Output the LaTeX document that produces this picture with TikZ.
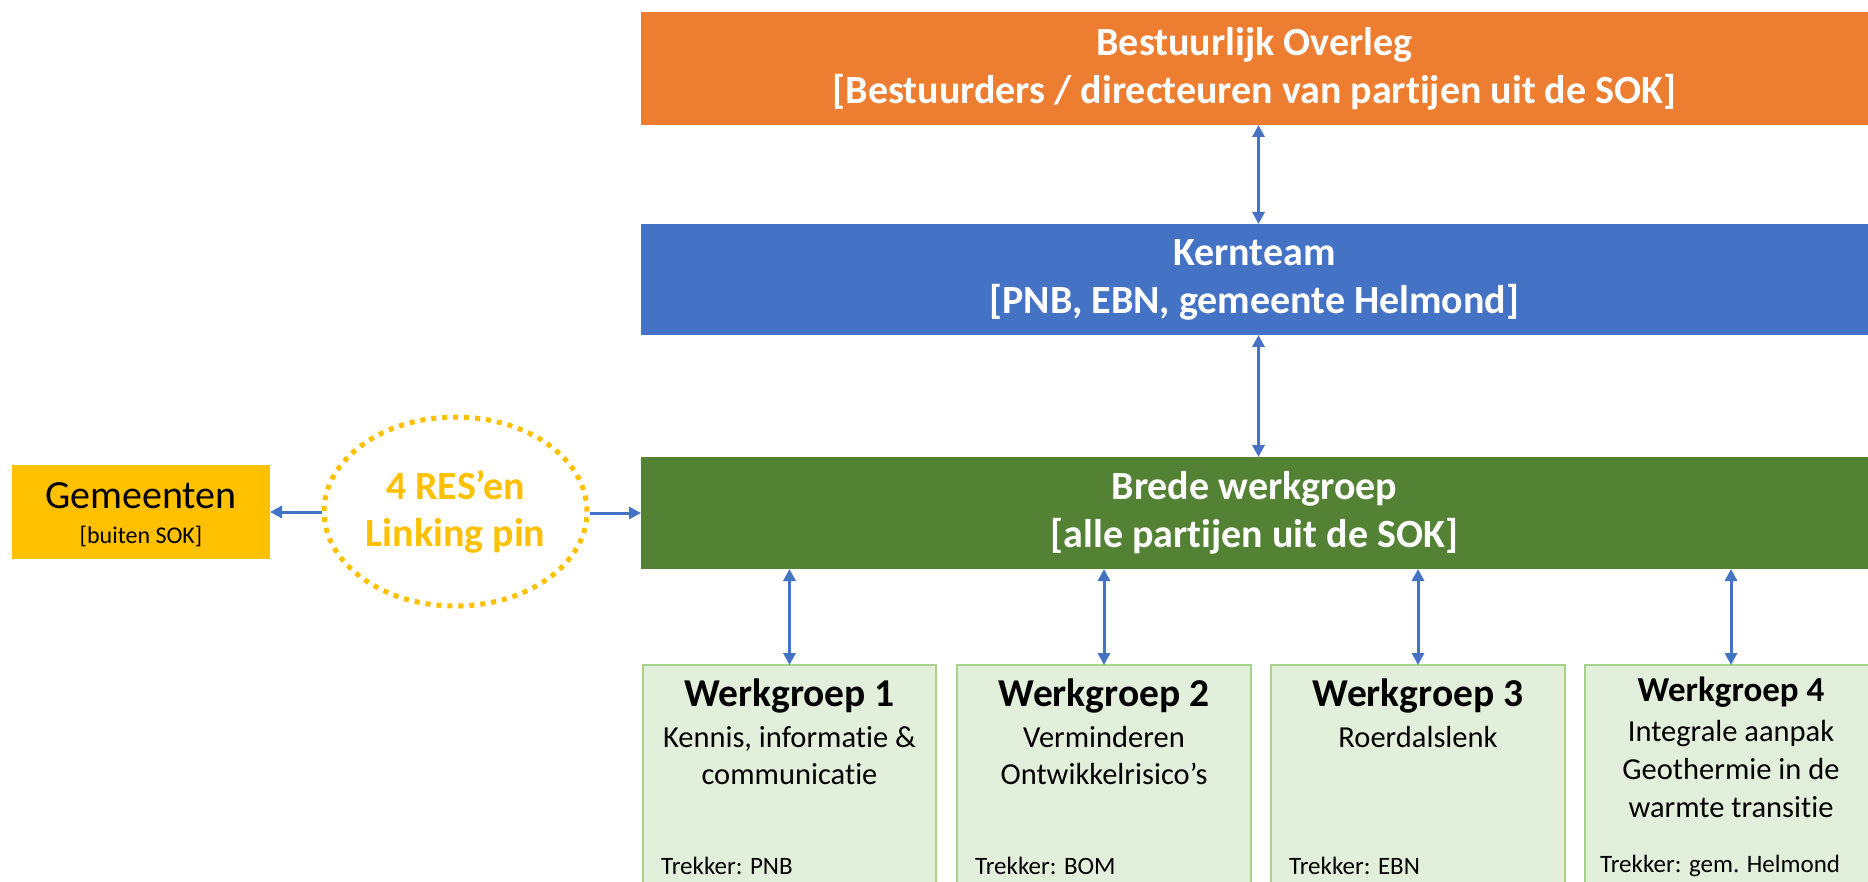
\documentclass[tikz,border=0pt]{standalone}
\usepackage{fontspec}
\setmainfont{Carlito}[Ligatures=NoCommon]
\usetikzlibrary{arrows.meta,shapes.geometric}
\definecolor{cOrange}{HTML}{ED7D31}
\definecolor{cBlue}{HTML}{4472C4}
\definecolor{cGreen}{HTML}{548235}
\definecolor{cGold}{HTML}{FFC000}
\definecolor{cWgFill}{HTML}{E2EFDA}
\definecolor{cWgLine}{HTML}{A9D18E}
\begin{document}
\begin{tikzpicture}[x=1pt,y=-1pt,
  bar/.style={rectangle, inner sep=0pt, outer sep=0pt, anchor=north west, text=white, align=center,
    font=\bfseries\fontsize{40}{48}\selectfont},
  wgbox/.style={rectangle, draw=cWgLine, line width=1.5pt, fill=cWgFill, inner sep=0pt, outer sep=0pt,
    anchor=north west, minimum height=260pt},
  wgtitle/.style={font=\bfseries\fontsize{39.5}{46}\selectfont, inner sep=0pt},
  wgbody/.style={font=\fontsize{30.5}{37}\selectfont, align=center, inner sep=0pt},
  trek/.style={font=\fontsize{25}{28}\selectfont, anchor=west, inner sep=0pt},
  arr/.style={draw=cBlue, line width=3pt, -{Triangle[length=12pt,width=12pt]}},
  darr/.style={draw=cBlue, line width=3pt, {Triangle[length=12pt,width=12pt]}-{Triangle[length=12pt,width=12pt]}}
]
\useasboundingbox (0,0) rectangle (1868,882);
\clip (0,0) rectangle (1868,882);
\fill[white] (0,0) rectangle (1868,882);

% main bars
\node[bar, fill=cOrange, minimum width=1227pt, minimum height=113pt] (bo) at (641,12)
  {Bestuurlijk Overleg\\{[}Bestuurders / directeuren van partijen uit de SOK{]}};
\node[bar, fill=cBlue, minimum width=1227pt, minimum height=111pt] (kt) at (641,224)
  {Kernteam\\{[}PNB, EBN, gemeente Helmond{]}};
\node[bar, fill=cGreen, minimum width=1227pt, minimum height=112pt] (bw) at (641,457)
  {Brede werkgroep\\{[}alle partijen uit de SOK{]}};

% Gemeenten
\node[rectangle, fill=cGold, inner sep=0pt, outer sep=0pt, anchor=north west,
  minimum width=258pt, minimum height=94pt] (gem) at (12,465) {};
\node[inner sep=0pt, font=\fontsize{40}{46}\selectfont] (gemt) at (gem.center |- 0,496) {Gemeenten};
\node[inner sep=0pt, font=\fontsize{24}{28}\selectfont] (gems) at (gem.center |- 0,536) {[buiten SOK]};

% ellipse
\node[ellipse, draw=cGold, line width=5pt, dash pattern=on 5pt off 6pt, inner sep=0pt,
  minimum width=263pt, minimum height=189pt, text=cGold, align=center,
  font=\bfseries\fontsize{40}{47}\selectfont] (ell) at (455.5,511.5) {4 RES’en\\Linking pin};

% werkgroep boxes
\node[wgbox, minimum width=293pt] (wg1) at (643,665) {};
\node[wgbox, minimum width=294pt] (wg2) at (957,665) {};
\node[wgbox, minimum width=294pt] (wg3) at (1271,665) {};
\node[wgbox, minimum width=300pt] (wg4) at (1585,665) {};

\node[wgtitle] (t1) at (wg1.north |- 0,696) {Werkgroep 1};
\node[wgbody] (b1) at (wg1.north |- 0,756) {Kennis, informatie \&\\communicatie};
\node[trek] (r1) at (661,866) {Trekker: PNB};

\node[wgtitle] (t2) at (wg2.north |- 0,696) {Werkgroep 2};
\node[wgbody] (b2) at (wg2.north |- 0,756) {Verminderen\\Ontwikkelrisico’s};
\node[trek] (r2) at (975,866) {Trekker: BOM};

\node[wgtitle] (t3) at (wg3.north |- 0,696) {Werkgroep 3};
\node[wgbody] (b3) at (wg3.north |- 0,737) {Roerdalslenk};
\node[trek] (r3) at (1289,866) {Trekker: EBN};

\node[wgtitle, font=\bfseries\fontsize{35}{42}\selectfont] (t4) at (1731,692) {Werkgroep 4};
\node[wgbody, font=\fontsize{30.5}{38}\selectfont] (b4) at (1731,769) {Integrale aanpak\\Geothermie in de\\warmte transitie};
\node[trek] (r4) at (1600,866) {Trekker: gem. Helmond};

% connectors
\draw[darr] ([xshift=4pt]bo.south) -- ([xshift=4pt]kt.north);
\draw[darr] ([xshift=4pt]kt.south) -- ([xshift=4pt]bw.north);
\draw[darr] (wg1.north |- bw.south) -- (wg1.north);
\draw[darr] (wg2.north |- bw.south) -- (wg2.north);
\draw[darr] (wg3.north |- bw.south) -- (wg3.north);
\draw[darr] (t4.north |- bw.south) -- (t4.north |- wg4.north);
\draw[arr] (gem.east -| ell.west) -- (gem.east);
\draw[arr] (bw.west -| ell.east) -- (bw.west);
\end{tikzpicture}
\end{document}
